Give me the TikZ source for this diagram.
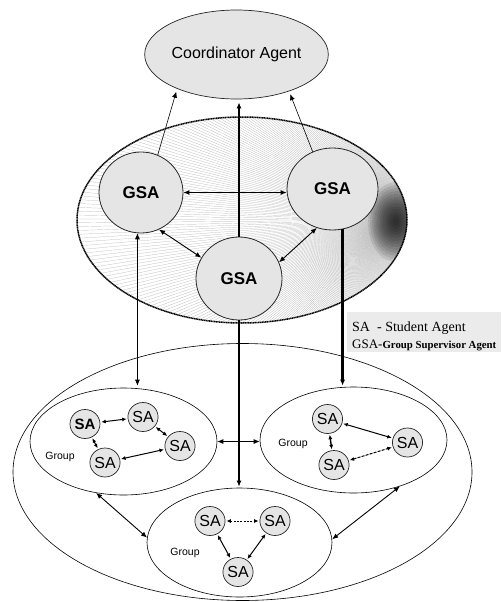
\documentclass[tikz,border=0pt]{standalone}
\usepackage{fontspec}
\setmainfont{Liberation Serif}
\setsansfont{Liberation Sans}
\usetikzlibrary{arrows.meta,shapes.geometric}

\begin{document}
\begin{tikzpicture}[x=1pt,y=-1pt,
  agent/.style={ellipse, draw=black!85, line width=0.7pt, fill=black!10, inner sep=0pt},
  coordagent/.style={agent, minimum width=157pt, minimum height=89pt,
    font=\sffamily\fontsize{16}{16}\selectfont},
  gsa/.style={agent, line width=0.8pt, font=\sffamily\bfseries\fontsize{17}{17}\selectfont},
  sa/.style={agent, minimum width=30pt, minimum height=29pt,
    font=\sffamily\fontsize{16}{16}\selectfont},
  grp/.style={ellipse, draw, line width=0.6pt, inner sep=0pt},
  grplabel/.style={font=\sffamily\fontsize{10.5}{10.5}\selectfont},
  tipA/.tip={Latex[length=6pt,width=5pt]},
  tipB/.tip={Latex[length=4.5pt,width=4pt]},
  uplink/.style={line width=0.6pt, -tipA},
  biglink/.style={line width=0.9pt, tipA-tipA},
  heavylink/.style={line width=2.2pt, -tipA},
  salink/.style={line width=1pt, tipB-tipB, shorten <=1pt, shorten >=1pt},
]
\useasboundingbox (0,0) rectangle (501,602);

% fan hatching inside the supervisor area, darkening towards its focus
\begin{scope}
  \clip (242,220) ellipse [x radius=165, y radius=103];
  \foreach \a in {0.3,1.0,...,359.9}
    \draw[black!32, line width=0.2pt] (394,220) -- ++(\a:420);
  \foreach \r in {40,37,...,4}
    \fill[black, opacity=0.09] (396,222) ellipse [x radius=0.7*\r, y radius=\r];
\end{scope}
\node[ellipse, draw, line width=1.5pt, dash pattern=on 1.2pt off 0.5pt,
  minimum width=330pt, minimum height=206pt, inner sep=0pt] (area) at (242,220) {};

% coordinator and group supervisor agents
\node[coordagent] (coord) at (236.5,54.5) {Coordinator Agent};
\node[gsa, minimum width=84pt, minimum height=81pt] (gsaL) at (141,192.5) {GSA};
\node[gsa, minimum width=91pt, minimum height=82pt] (gsaR) at (332.5,189) {GSA};
\node[gsa, minimum width=86pt, minimum height=83pt] (gsaM) at (239,278.5) {GSA};

% outer ellipse and the three groups
\node[grp, minimum width=459pt, minimum height=257pt] (outer) at (242.5,472) {};
\node[grp, minimum width=187pt, minimum height=107pt] (grpL) at (123.5,441.5) {};
\node[grp, minimum width=187pt, minimum height=106pt] (grpR) at (353.5,440) {};
\node[grp, minimum width=185pt, minimum height=109pt] (grpB) at (239.5,542.5) {};

% student agents, left group
\node[sa, font=\sffamily\bfseries\fontsize{15}{15}\selectfont] (sa1) at (85,424) {SA};
\node[sa] (sa2) at (143,417) {SA};
\node[sa] (sa3) at (180,446) {SA};
\node[sa] (sa4) at (105,462.5) {SA};
\node[grplabel] (lblL) at (60,457) {Group};

% student agents, right group
\node[sa] (saA) at (327.5,419) {SA};
\node[sa] (saB) at (407.5,442.5) {SA};
\node[sa] (saC) at (334,465) {SA};
\node[grplabel] (lblR) at (293,444) {Group};

% student agents, bottom group
\node[sa] (saD) at (210,521) {SA};
\node[sa] (saE) at (275,521) {SA};
\node[sa] (saF) at (238,572) {SA};
\node[grplabel] (lblB) at (185,553) {Group};

% links to the coordinator
\draw[uplink, shorten >=3pt] (gsaL.66) -- (coord.210);
\draw[uplink, shorten >=3pt] (gsaR.118) -- (coord.-35);
\draw[heavylink, shorten >=3pt] (gsaM.north) -- (gsaM.north |- coord.south);

% links between supervisors
\draw[biglink] (gsaL.east) -- (gsaL.east -| gsaR.west);
\draw[biglink] (gsaL.-64) -- (gsaM.151);
\draw[biglink] (gsaR.-112) -- (gsaM.22);

% supervisors down to the groups
\draw[biglink, line width=0.7pt, shorten >=2pt] (gsaL.-95) -- (gsaL.-95 |- grpL.north);
\draw[heavylink, shorten >=1pt] (gsaR.-76) -- (gsaR.-76 |- grpR.north);
\draw[heavylink, shorten >=1pt] (gsaM.south) -- (gsaM.south |- grpB.north);

% links between groups
\draw[biglink] (grpL.east) -- (grpL.east -| grpR.west);
\draw[biglink] (grpL.-118) -- (grpB.177);
\draw[biglink] (grpR.-45) -- (grpB.2);

% links between students
\draw[salink] (sa1) -- (sa2);
\draw[salink] (sa2) -- (sa3);
\draw[salink] (sa4) -- (sa3);
\draw[salink] (sa1) -- (sa4);
\draw[salink] (saA) -- (saB);
\draw[salink, dash pattern=on 3pt off 1.2pt] (saC) -- (saB);
\draw[salink, line width=1.4pt] (saA) -- (saC);
\draw[salink, dash pattern=on 2pt off 1.3pt] (saD) -- (saE);
\draw[salink] (saD) -- (saF);
\draw[salink] (saE) -- (saF);

% legend
\node[fill=black!8, minimum width=154pt, minimum height=40pt, inner sep=0pt,
  anchor=north west] (legend) at (347,312) {};
\node[anchor=base west, inner sep=0pt, font=\fontsize{14}{14}\selectfont]
  (leg1) at (352,331) {SA\enspace- Student Agent};
\node[anchor=base west, inner sep=0pt, font=\fontsize{13}{13}\selectfont]
  (leg2) at (352,348) {GSA-{\bfseries\fontsize{10.8}{11}\selectfont Group Supervisor Agent}};
\end{tikzpicture}
\end{document}
